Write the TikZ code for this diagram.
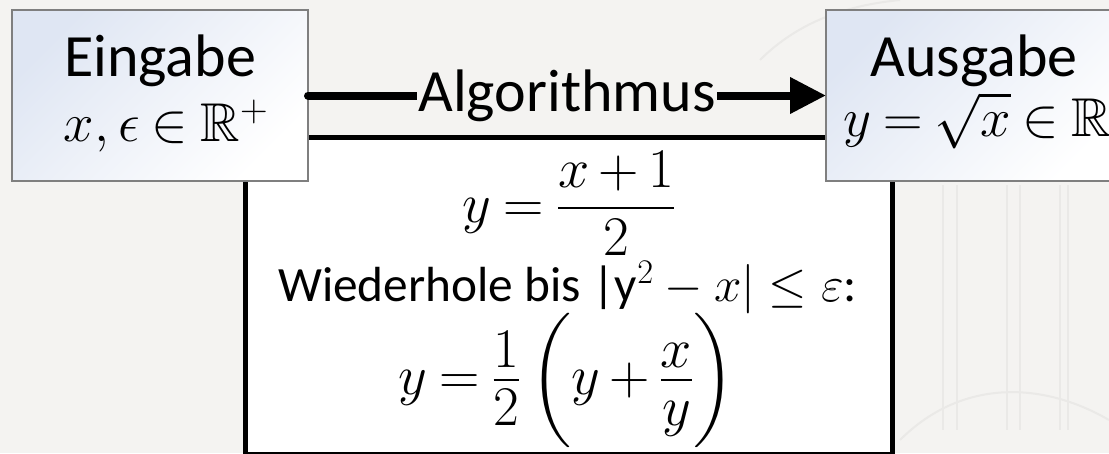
\documentclass[tikz,border=0pt]{standalone}
\usepackage{fix-cm}
\usepackage{amsmath,amssymb}
\usepackage{fontspec}
\setmainfont{Carlito}
\usetikzlibrary{arrows.meta}
\definecolor{bgcol}{HTML}{F4F3F1}
\definecolor{boxblue}{HTML}{DFE6F3}
\definecolor{boxline}{HTML}{7F7F7F}
\definecolor{wmark}{HTML}{EAE9E7}
\newcommand{\iotxt}{\fontsize{45}{54}\selectfont}
\newcommand{\iomath}{\fontsize{41}{48}\selectfont}
\newcommand{\midtxt}{\fontsize{37}{44}\selectfont}
\newcommand{\midmath}{\fontsize{42}{50}\selectfont}
\newcommand{\tightm}{\thickmuskip=4mu plus 2mu\medmuskip=3mu plus 1mu}
\newcommand{\shiftm}[2]{\raisebox{#1}{$#2$}}
\begin{document}
\begin{tikzpicture}[x=0.75pt,y=-0.75pt,
  iobox/.style={draw=boxline, line width=1.5pt, top color=boxblue, bottom color=white,
    shading angle=45, minimum height=128.25pt, inner sep=0pt, outer sep=0pt},
  algbox/.style={draw=black, fill=white, line width=3.75pt, minimum width=485.25pt,
    minimum height=237.75pt, inner sep=0pt, outer sep=0pt},
  txt/.style={anchor=base, inner sep=0pt},
  wm/.style={draw=wmark, line width=1.5pt},
  flow/.style={line width=6pt, line cap=round, -{Triangle[length=27pt, width=26pt]}},
  lbl/.style={fill=bgcol, inner xsep=1pt, inner ysep=0pt, font=\iotxt}]
% background
\fill[bgcol] (0,0) rectangle (1109,453);
\useasboundingbox (0,0) rectangle (1109,453);
% faint watermark
\draw[wm] (943,185) -- (943,430);
\draw[wm] (957,185) -- (957,430);
\draw[wm] (1007,185) -- (1007,430);
\draw[wm] (1020,185) -- (1020,430);
\draw[wm] (1060,185) -- (1060,430);
\draw[wm] (1068,185) -- (1068,430);
\draw[wm] (900,440) .. controls (960,380) and (1040,380) .. (1109,420);
\draw[wm] (760,60) .. controls (800,20) and (850,5) .. (900,0);
% algorithm box
\node[algbox] (alg) at (569,295.5) {};
% input / output boxes
\node[iobox, minimum width=222pt] (ein) at (160,95.5) {};
\node[iobox, minimum width=223.5pt] (aus) at (975,95.5) {};
% texts
\node[txt, font=\iotxt] (einT) at (160,77) {Eingabe};
\node[txt, font=\iomath\tightm] (einM) at (166,141) {$x,\epsilon\in\mathbb{R}^{+}$};
\node[txt, font=\iotxt] (ausT) at (974,76) {Ausgabe};
\node[txt, font=\iomath\tightm] (ausM) at (977,136) {$y=\sqrt{x}\in\mathbb{R}$};
\node[txt, font=\midmath\tightm] (f1) at (569,222)
  {$\displaystyle y=\frac{\shiftm{-2.25pt}{x+1}}{\shiftm{4pt}{2}}$};
\node[txt, font=\midtxt] (rep) at (567.5,301) {Wiederhole bis |y$^2-x|\leq\varepsilon$:};
\node[txt, font=\midmath\tightm] (f2) at (566.5,394)
  {$\displaystyle y=\frac{\shiftm{-8.25pt}{1}}{\shiftm{5.25pt}{2}}\left(y+\frac{\shiftm{-8.25pt}{x}}{\shiftm{5.25pt}{y}}\right)$};
% arrow
\draw[flow] (ein.east) -- node[lbl] (algT) {Algorithmus} (aus.west);
\end{tikzpicture}
\end{document}
